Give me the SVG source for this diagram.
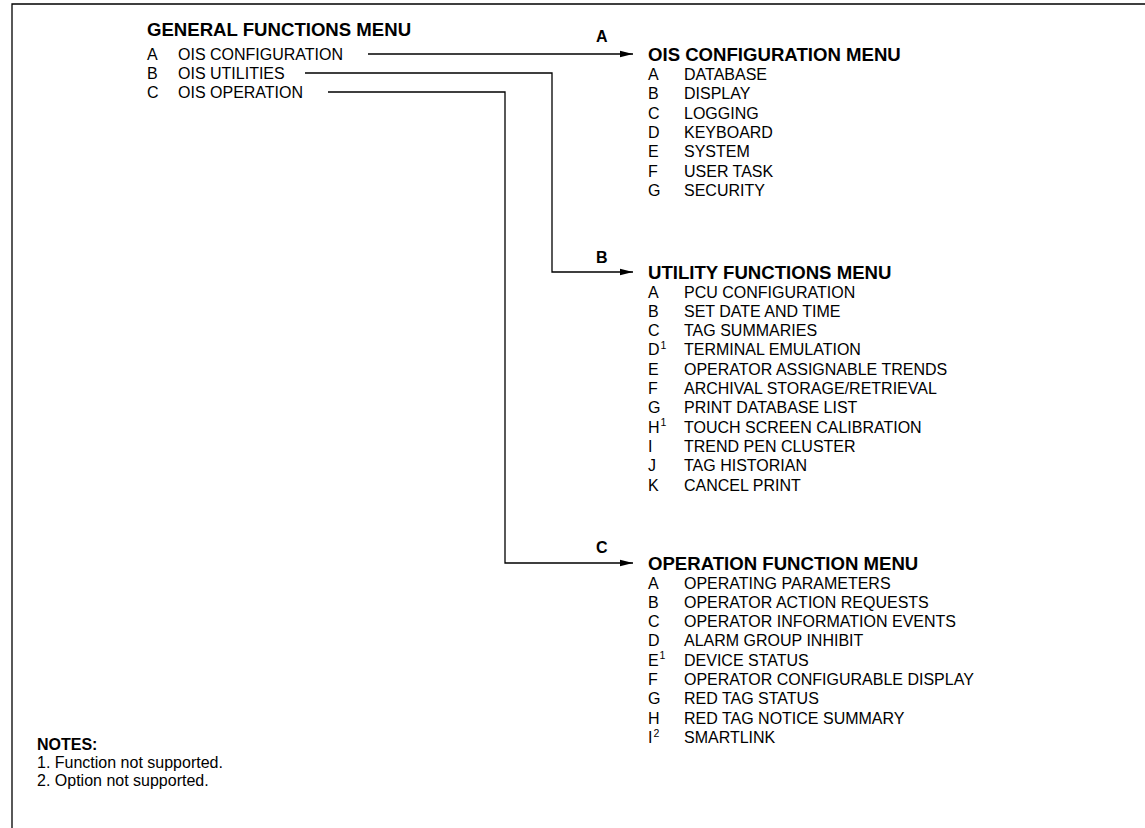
<svg xmlns="http://www.w3.org/2000/svg" width="1145" height="828" viewBox="0 0 1145 828">
<style>
text{font-family:"Liberation Sans",Arial,sans-serif;fill:#000}
.t{font-size:18.6px;font-weight:bold}
.i{font-size:16px}
.s{font-size:10.5px}
.l{font-size:16px;font-weight:bold}
.n{font-size:16px}
.nb{font-size:16px;font-weight:bold}
.c{fill:none;stroke:#000;stroke-width:1.3}
</style>
<defs>
<marker id="ah" markerUnits="userSpaceOnUse" markerWidth="14" markerHeight="8" refX="13" refY="4" orient="auto">
<path d="M0,0.7 L13,4 L0,7.3 Z" fill="#000"/>
</marker>
</defs>
<rect width="1145" height="828" fill="#fff"/>
<path class="c" d="M12,828 V4 H1145" stroke-width="1.6"/>

<g id="general">
<text class="t" x="147" y="36">GENERAL FUNCTIONS MENU</text>
<text class="i" x="147" y="60">A</text><text class="i" x="178" y="60">OIS CONFIGURATION</text>
<text class="i" x="147" y="79">B</text><text class="i" x="178" y="79">OIS UTILITIES</text>
<text class="i" x="147" y="98">C</text><text class="i" x="178" y="98">OIS OPERATION</text>
</g>

<g id="connectors">
<path class="c" d="M368,54 H633" marker-end="url(#ah)"/>
<path class="c" d="M305,73 H552 V272 H633" marker-end="url(#ah)"/>
<path class="c" d="M328,92 H505 V563 H633" marker-end="url(#ah)"/>
<text class="l" x="596" y="42">A</text>
<text class="l" x="596" y="263">B</text>
<text class="l" x="596" y="553">C</text>
</g>

<g id="config">
<text class="t" x="648" y="60.5">OIS CONFIGURATION MENU</text>
<text class="i" x="648" y="80">A</text><text class="i" x="684" y="80">DATABASE</text>
<text class="i" x="648" y="99.3">B</text><text class="i" x="684" y="99.3">DISPLAY</text>
<text class="i" x="648" y="118.6">C</text><text class="i" x="684" y="118.6">LOGGING</text>
<text class="i" x="648" y="137.9">D</text><text class="i" x="684" y="137.9">KEYBOARD</text>
<text class="i" x="648" y="157.2">E</text><text class="i" x="684" y="157.2">SYSTEM</text>
<text class="i" x="648" y="176.5">F</text><text class="i" x="684" y="176.5">USER TASK</text>
<text class="i" x="648" y="195.8">G</text><text class="i" x="684" y="195.8">SECURITY</text>
</g>

<g id="utility">
<text class="t" x="648" y="279">UTILITY FUNCTIONS MENU</text>
<text class="i" x="648" y="297.5">A</text><text class="i" x="684" y="297.5">PCU CONFIGURATION</text>
<text class="i" x="648" y="316.8">B</text><text class="i" x="684" y="316.8">SET DATE AND TIME</text>
<text class="i" x="648" y="336.1">C</text><text class="i" x="684" y="336.1">TAG SUMMARIES</text>
<text class="i" x="648" y="355.4">D</text><text class="s" x="660.5" y="349">1</text><text class="i" x="684" y="355.4">TERMINAL EMULATION</text>
<text class="i" x="648" y="374.7">E</text><text class="i" x="684" y="374.7">OPERATOR ASSIGNABLE TRENDS</text>
<text class="i" x="648" y="394">F</text><text class="i" x="684" y="394">ARCHIVAL STORAGE/RETRIEVAL</text>
<text class="i" x="648" y="413.3">G</text><text class="i" x="684" y="413.3">PRINT DATABASE LIST</text>
<text class="i" x="648" y="432.6">H</text><text class="s" x="660.5" y="426.2">1</text><text class="i" x="684" y="432.6">TOUCH SCREEN CALIBRATION</text>
<text class="i" x="648" y="451.9">I</text><text class="i" x="684" y="451.9">TREND PEN CLUSTER</text>
<text class="i" x="648" y="471.2">J</text><text class="i" x="684" y="471.2">TAG HISTORIAN</text>
<text class="i" x="648" y="490.5">K</text><text class="i" x="684" y="490.5">CANCEL PRINT</text>
</g>

<g id="operation">
<text class="t" x="648" y="569.5">OPERATION FUNCTION MENU</text>
<text class="i" x="648" y="588.5">A</text><text class="i" x="684" y="588.5">OPERATING PARAMETERS</text>
<text class="i" x="648" y="607.8">B</text><text class="i" x="684" y="607.8">OPERATOR ACTION REQUESTS</text>
<text class="i" x="648" y="627.1">C</text><text class="i" x="684" y="627.1">OPERATOR INFORMATION EVENTS</text>
<text class="i" x="648" y="646.4">D</text><text class="i" x="684" y="646.4">ALARM GROUP INHIBIT</text>
<text class="i" x="648" y="665.7">E</text><text class="s" x="659.5" y="659.3">1</text><text class="i" x="684" y="665.7">DEVICE STATUS</text>
<text class="i" x="648" y="685">F</text><text class="i" x="684" y="685">OPERATOR CONFIGURABLE DISPLAY</text>
<text class="i" x="648" y="704.3">G</text><text class="i" x="684" y="704.3">RED TAG STATUS</text>
<text class="i" x="648" y="723.6">H</text><text class="i" x="684" y="723.6">RED TAG NOTICE SUMMARY</text>
<text class="i" x="648" y="742.9">I</text><text class="s" x="653.5" y="736.5">2</text><text class="i" x="684" y="742.9">SMARTLINK</text>
</g>

<g id="notes">
<text class="nb" x="37" y="750">NOTES:</text>
<text class="n" x="37" y="768">1. Function not supported.</text>
<text class="n" x="37" y="785.5">2. Option not supported.</text>
</g>
</svg>
